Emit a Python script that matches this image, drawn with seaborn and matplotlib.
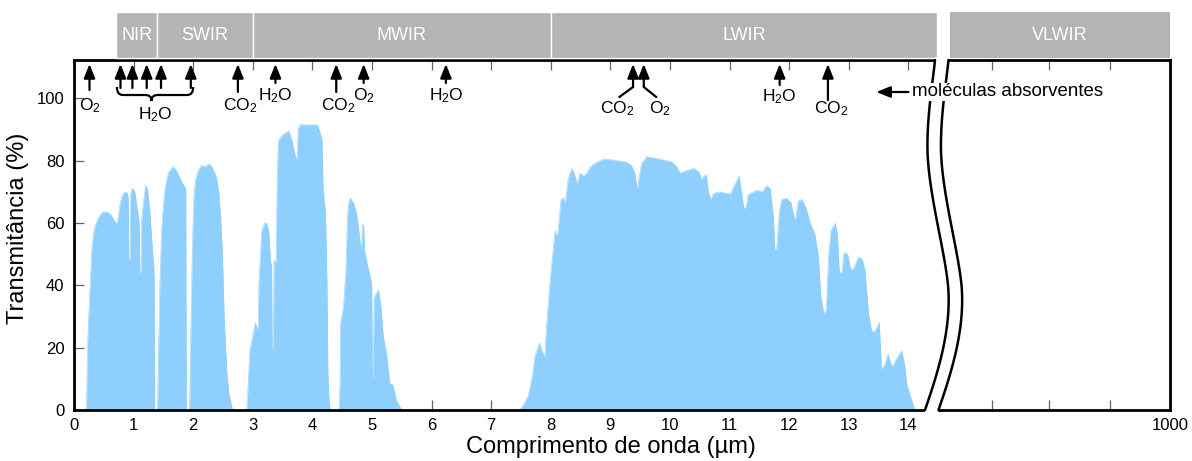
import numpy as np
import matplotlib
matplotlib.use("Agg")
import matplotlib.pyplot as plt
import seaborn as sns
from matplotlib.path import Path
from matplotlib.patches import PathPatch, Rectangle, Polygon
from matplotlib.lines import Line2D
from matplotlib.transforms import blended_transform_factory

# ---------------------------------------------------------------------------
# Atmospheric transmittance windows (wavelength in µm, transmittance in %)
# ---------------------------------------------------------------------------
vis_nir_wl = [0.21, 0.225, 0.24, 0.27, 0.30, 0.34, 0.40, 0.48, 0.56, 0.62,
              0.67, 0.71, 0.74, 0.77, 0.81, 0.86, 0.895, 0.91, 0.92, 0.94,
              0.95, 0.97, 0.99, 1.02, 1.05, 1.08, 1.095, 1.105, 1.125, 1.135,
              1.16, 1.20, 1.23, 1.27, 1.30, 1.33, 1.345, 1.355]
vis_nir_t = [0, 20, 27, 40, 52, 58, 61.5, 63.5, 63.5, 62.5,
             61, 59.5, 61.5, 66, 69, 70, 69.5, 68, 48, 48,
             69, 71, 71, 70, 66, 62, 60, 44, 44, 61,
             66, 72, 71, 64, 56, 48, 43, 0]

swir1_wl = [1.40, 1.42, 1.44, 1.47, 1.50, 1.53, 1.58, 1.63, 1.67, 1.71,
            1.75, 1.80, 1.84, 1.875, 1.885]
swir1_t = [0, 20, 40, 58, 66, 71.5, 76, 77.5, 78, 77,
           75.5, 73.5, 72, 71, 0]

swir2_wl = [1.94, 1.955, 1.975, 1.99, 2.01, 2.04, 2.09, 2.14, 2.20, 2.26,
            2.31, 2.35, 2.39, 2.43, 2.46, 2.49, 2.52, 2.56, 2.60, 2.66]
swir2_t = [0, 20, 42, 55, 68, 74, 77, 78.5, 78, 79,
           78, 76.5, 74.5, 70, 62, 50, 30, 13, 5, 0]

mwir1_wl = [2.90, 2.95, 3.00, 3.04, 3.07, 3.09, 3.10, 3.15, 3.20, 3.23,
            3.27, 3.30, 3.315, 3.325, 3.345, 3.355, 3.39, 3.41, 3.43, 3.51,
            3.60, 3.65, 3.72, 3.745, 3.76, 3.79, 4.08, 4.12, 4.16, 4.18,
            4.22, 4.245, 4.26, 4.28, 4.30]
mwir1_t = [0, 19, 24, 28, 26.5, 25.5, 40, 57.5, 60, 60,
           57, 47, 47, 20, 20, 48, 47, 75, 86.5, 88.5,
           89.5, 87, 81, 80.5, 90, 91.5, 91.5, 89.5, 86.5, 71,
           63, 40, 12, 3, 0]

mwir2_wl = [4.45, 4.465, 4.47, 4.52, 4.56, 4.585, 4.60, 4.63, 4.69, 4.74,
            4.77, 4.80, 4.825, 4.84, 4.86, 4.875, 4.94, 4.985, 4.995, 5.005,
            5.02, 5.035, 5.06, 5.11, 5.15, 5.19, 5.25, 5.30, 5.35, 5.41,
            5.50]
mwir2_t = [0, 10, 27.5, 33, 44, 60, 65.5, 68, 66.5, 63,
           59, 53.5, 52, 59.5, 59, 51, 45, 41.5, 40, 10.5,
           10.5, 36, 37, 38.5, 33, 23.5, 17, 8.5, 8, 3,
           0]

lwir_wl = [7.48, 7.55, 7.62, 7.70, 7.73, 7.78, 7.81, 7.85, 7.90, 7.92,
           7.97, 8.00, 8.04, 8.07, 8.11, 8.14, 8.17, 8.21, 8.24, 8.29,
           8.35, 8.40, 8.44, 8.49, 8.55, 8.60, 8.66, 8.77, 8.88, 9.05,
           9.27, 9.35, 9.41, 9.45, 9.48, 9.52, 9.61, 9.75, 9.89, 10.03,
           10.11, 10.17, 10.24, 10.31, 10.40, 10.48, 10.53, 10.57, 10.61, 10.64,
           10.68, 10.73, 10.84, 10.95, 11.02, 11.09, 11.16, 11.20, 11.24, 11.28,
           11.31, 11.45, 11.55, 11.62, 11.68, 11.73, 11.76, 11.79, 11.83, 11.87,
           11.95, 12.03, 12.08, 12.10, 12.15, 12.21, 12.28, 12.35, 12.43, 12.49,
           12.53, 12.58, 12.62, 12.66, 12.70, 12.77, 12.81, 12.84, 12.88, 12.92,
           12.98, 13.03, 13.08, 13.16, 13.22, 13.27, 13.33, 13.38, 13.42, 13.47,
           13.51, 13.55, 13.60, 13.66, 13.70, 13.74, 13.80, 13.89, 13.94, 13.97,
           14.03, 14.11]
lwir_t = [0, 2, 4.5, 12, 17, 20, 21.5, 19, 17, 24.5,
          37.5, 44, 51.5, 57.5, 55.5, 61, 67.5, 68, 66, 74,
          77.5, 75.5, 72.5, 76, 75, 76, 78, 79.5, 80.5, 80.2,
          79.5, 78.5, 76, 70.5, 74.5, 79, 81.3, 80.8, 80.2, 79.6,
          78, 76, 76.5, 77, 77.5, 76.5, 74, 75, 75.5, 70.5,
          67.5, 69.5, 70, 69.5, 69.5, 72.5, 75, 70, 64.5, 65.5,
          69, 70.5, 70, 72, 71, 63, 51.5, 51.5, 63, 67.5,
          68, 66.5, 62, 60.5, 67, 67.5, 65, 60, 56.5, 49,
          36.5, 31, 32, 49, 57.5, 60, 56, 44, 44, 50.5,
          50, 45, 45.5, 49, 48.5, 45, 31, 25.5, 25, 26.5,
          28, 13, 14.5, 18, 15, 14, 16.5, 19, 14, 8.5,
          4.5, 0]

# Spectral bands along the top (µm)
band_names = ["NIR", "SWIR", "MWIR", "LWIR"]
band_edges = [0.7, 1.4, 3.0, 8.0, 14.48]

# Absorbing molecules (label, wavelength in µm)
molecule_x = [0.26, 0.78, 0.98, 1.22, 1.46, 1.96, 2.75, 3.38, 4.40, 4.86,
              6.24, 9.38, 9.56, 11.84, 12.65]
molecule_labels = ["O2", "H2O", "CO2", "H2O", "CO2", "O2", "H2O",
                   "CO2", "O2", "H2O", "CO2"]
molecule_label_x = [0.26, 1.36, 2.78, 3.38, 4.43, 4.87, 6.24,
                    9.11, 9.83, 11.84, 12.70]

x_ticks = list(range(0, 15))
y_ticks = [0, 20, 40, 60, 80, 100]
far_tick_label = "1000"

# ---------------------------------------------------------------------------
BLUE = "#8ecffd"
GREY = "#b4b4b4"
TICK_GREY = "#666666"

sns.set_theme(style="white")
plt.rcParams["font.family"] = ["Liberation Sans", "DejaVu Sans"]
plt.rcParams["mathtext.fontset"] = "custom"
plt.rcParams["mathtext.rm"] = "Liberation Sans"
plt.rcParams["mathtext.it"] = "Liberation Sans"

W, H = 1192, 461
fig = plt.figure(figsize=(W / 100, H / 100), dpi=100)
fig.patch.set_facecolor("white")


def fx(px):
    return px / W


def fy(py):
    return 1 - py / H


X0_PX, UNIT_PX = 74, 59.6
TOP_PX, BOT_PX = 60, 410
AX1_RIGHT_PX = 940
AX2_LEFT_PX, AX2_RIGHT_PX = 935, 1170
Y_TOP = (BOT_PX - TOP_PX) / 3.117


def yf(py):
    """Pixel row -> axes fraction of the plotting area."""
    return (BOT_PX - py) / (BOT_PX - TOP_PX)


ax = fig.add_axes([fx(X0_PX), fy(BOT_PX), fx(AX1_RIGHT_PX) - fx(X0_PX),
                   fy(TOP_PX) - fy(BOT_PX)])
ax.set_xlim(0, (AX1_RIGHT_PX - X0_PX) / UNIT_PX)
ax.set_ylim(0, Y_TOP)

windows = [(vis_nir_wl, vis_nir_t), (swir1_wl, swir1_t), (swir2_wl, swir2_t),
           (mwir1_wl, mwir1_t), (mwir2_wl, mwir2_t), (lwir_wl, lwir_t)]
for wl, t in windows:
    ax.fill_between(wl, t, 0, color=BLUE, lw=0, zorder=1)
    sns.lineplot(x=wl, y=t, ax=ax, color=BLUE, lw=0.4, sort=False,
                 estimator=None, zorder=1)

for side in ["left", "top", "bottom"]:
    ax.spines[side].set_color("black")
    ax.spines[side].set_linewidth(2)
ax.spines["right"].set_visible(False)

ax.set_xticks(x_ticks)
ax.set_xticklabels([str(v) for v in x_ticks])
ax.set_yticks(y_ticks)
ax.set_yticklabels([str(v) for v in y_ticks])
ax.tick_params(axis="x", direction="in", length=7, width=0.9, color=TICK_GREY,
               top=True, bottom=True, labelsize=12, pad=6, labelcolor="black")
ax.tick_params(axis="y", direction="in", length=7, width=0.9, color=TICK_GREY,
               left=True, right=False, labelsize=12, pad=7, labelcolor="black")
ax.set_xlabel("")
ax.set_ylabel("")

# Far part of the broken axis (VLWIR)
ax2 = fig.add_axes([fx(AX2_LEFT_PX), fy(BOT_PX), fx(AX2_RIGHT_PX) - fx(AX2_LEFT_PX),
                    fy(TOP_PX) - fy(BOT_PX)])
span2 = (AX2_RIGHT_PX - AX2_LEFT_PX) / UNIT_PX
ax2.set_xlim(0, span2)
ax2.set_ylim(0, Y_TOP)
far_ticks = [(992 - AX2_LEFT_PX) / UNIT_PX, (1049 - AX2_LEFT_PX) / UNIT_PX,
             (1110 - AX2_LEFT_PX) / UNIT_PX, span2]
ax2.set_xticks(far_ticks)
ax2.set_xticklabels(["", "", "", far_tick_label])
ax2.set_yticks([])
ax2.tick_params(axis="x", direction="in", length=7, width=0.9, color=TICK_GREY,
                top=True, bottom=True, labelsize=12, pad=6, labelcolor="black")
for side in ["right", "top", "bottom"]:
    ax2.spines[side].set_color("black")
    ax2.spines[side].set_linewidth(2)
ax2.spines["left"].set_visible(False)

# Band strip above the plot
trans = blended_transform_factory(ax.transData, ax.transAxes)
band_y0, band_y1 = yf(58), yf(12)
for name, x0, x1 in zip(band_names, band_edges[:-1], band_edges[1:]):
    ax.add_patch(Rectangle((x0, band_y0), x1 - x0, band_y1 - band_y0,
                           transform=trans, facecolor=GREY, edgecolor="white",
                           lw=1, clip_on=False, zorder=3))
    ax.text((x0 + x1) / 2, yf(35), name, transform=trans, ha="center",
            va="center", color="white", fontsize=13, zorder=4)
trans2 = blended_transform_factory(ax2.transAxes, ax2.transAxes)
vl0 = (950 - AX2_LEFT_PX) / (AX2_RIGHT_PX - AX2_LEFT_PX)
ax2.add_patch(Rectangle((vl0, band_y0), 1 - vl0, band_y1 - band_y0,
                        transform=trans2, facecolor=GREY, edgecolor="none",
                        clip_on=False, zorder=3))
ax2.text((vl0 + 1) / 2, yf(35), "VLWIR", transform=trans2, ha="center",
         va="center", color="white", fontsize=13, zorder=4)

# Molecule arrows
tail_px = [90, 88, 88, 88, 88, 88, 92, 83, 92, 83, 83, 87, 87, 85, 100]
arrow_style = "-|>,head_length=0.7,head_width=0.28"
for x, tp in zip(molecule_x, tail_px):
    ax.annotate("", xy=(x, yf(64)), xycoords=trans, xytext=(x, yf(tp)),
                textcoords=trans, annotation_clip=False,
                arrowprops=dict(arrowstyle=arrow_style, color="black", lw=1.6,
                                shrinkA=0, shrinkB=0))

# bent leaders below the 9.4–9.6 µm pair
ax.add_line(Line2D([molecule_x[11], 9.15], [yf(87), yf(97)], transform=trans,
                   color="black", lw=1.6, clip_on=False))
ax.add_line(Line2D([molecule_x[12], 9.77], [yf(87), yf(97)], transform=trans,
                   color="black", lw=1.6, clip_on=False))

# curly brace grouping the near-infrared water bands
bx0, bx1, bxm = 0.72, 2.0, 1.30
yt, ym, yc = yf(87), yf(95), yf(101)
r = 0.1
verts = [(bx0, yt), (bx0, ym), (bx0 + r, ym), (bxm - r, ym), (bxm, ym), (bxm, yc),
         (bxm, ym), (bxm + r, ym), (bx1 - r, ym), (bx1, ym), (bx1, yt)]
codes = [Path.MOVETO, Path.CURVE3, Path.CURVE3, Path.LINETO, Path.CURVE3,
         Path.CURVE3, Path.CURVE3, Path.CURVE3, Path.LINETO, Path.CURVE3,
         Path.CURVE3]
ax.add_patch(PathPatch(Path(verts, codes), facecolor="none", edgecolor="black",
                       lw=1.6, transform=trans, clip_on=False, zorder=4))


def chem(label):
    out = ""
    for ch in label:
        out += r"$_{\mathregular{%s}}$" % ch if ch.isdigit() else ch
    return out


label_py = [106, 115, 106, 96, 106, 96, 96, 109, 109, 97, 109]
for lab, x, py in zip(molecule_labels, molecule_label_x, label_py):
    ax.text(x, yf(py), chem(lab), transform=trans, ha="center", va="center",
            fontsize=12.5, color="black", zorder=4)

ax.annotate("", xy=(13.46, yf(92)), xycoords=trans, xytext=(14.0, yf(92)),
            textcoords=trans, annotation_clip=False,
            arrowprops=dict(arrowstyle=arrow_style, color="black", lw=1.6,
                            shrinkA=0, shrinkB=0))

# Axis break: two wavy lines with a white gap between them


def cubic(p0, p1, p2, p3, n=40):
    t = np.linspace(0, 1, n)[:, None]
    p0, p1, p2, p3 = map(np.asarray, (p0, p1, p2, p3))
    return (1 - t) ** 3 * p0 + 3 * (1 - t) ** 2 * t * p1 + 3 * (1 - t) * t ** 2 * p2 + t ** 3 * p3


wave = np.vstack([
    cubic((925, 410), (937, 375), (952, 330), (948, 285)),
    cubic((948, 285), (944, 245), (926, 185), (927.5, 140)),
    cubic((927.5, 140), (928, 110), (933, 80), (935, 60)),
])
shift = 13.5
left_curve = wave
right_curve = wave + np.array([shift, 0])
gap = np.vstack([[left_curve[0] + [0, 3]], left_curve, [left_curve[-1] - [0, 3]],
                 [right_curve[-1] - [0, 3]], right_curve[::-1], [right_curve[0] + [0, 3]]])
gap_fig = np.column_stack([fx(gap[:, 0]), fy(gap[:, 1])])
fig.add_artist(Polygon(gap_fig, closed=True, facecolor="white", edgecolor="none",
                       transform=fig.transFigure, zorder=3))
for curve in (left_curve, right_curve):
    fig.add_artist(Line2D(fx(curve[:, 0]), fy(curve[:, 1]), color="black", lw=1.8,
                          transform=fig.transFigure, zorder=4))

fig.text(14.06, yf(92), "moléculas absorventes", transform=trans, ha="left",
         va="center", fontsize=13.5, color="black", zorder=6,
         bbox=dict(facecolor="white", edgecolor="none", pad=0.5))

# Axis titles
fig.text(fx(611), fy(447), "Comprimento de onda (µm)", ha="center", va="center",
         fontsize=17, color="black")
fig.text(fx(18), fy(228), "Transmitância (%)", ha="center", va="center",
         rotation=90, fontsize=17, color="black")

fig.savefig("out.png", dpi=100, facecolor="white")
